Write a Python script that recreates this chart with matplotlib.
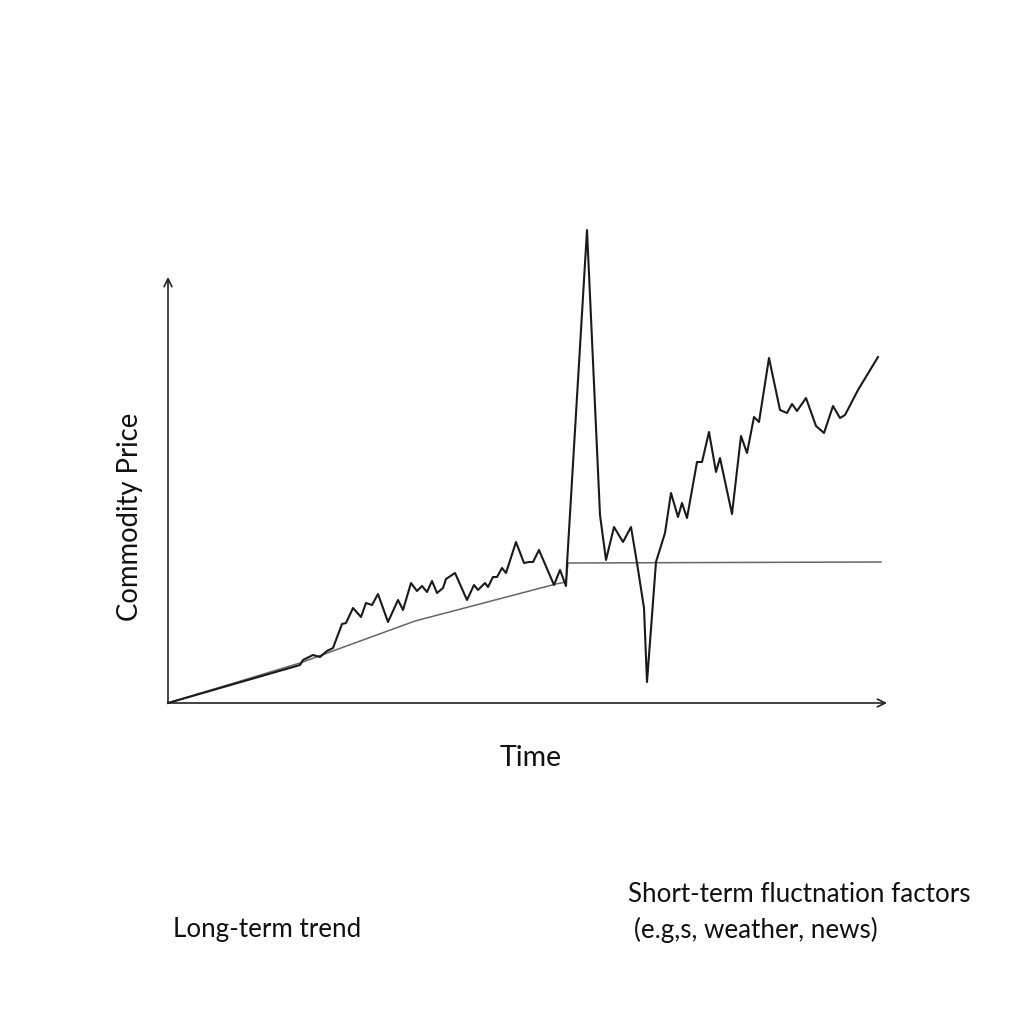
import matplotlib
matplotlib.use("Agg")
import matplotlib.pyplot as plt

# price path (time in days, price in arbitrary units)
time = [0, 33, 33.75, 36.25, 38, 39.75, 41.25, 43.5, 44.5, 46.25, 48.25, 49.5, 51,
        52.5, 55, 57.5, 58.75, 60.75, 62.25, 63.5, 64.75, 66, 67.25, 68.75, 69.5,
        71.75, 74.75, 76.5, 77.5, 79.25, 80, 81.25, 82.25, 83.5, 84.5, 87, 89,
        90.25, 91.25, 92.75, 96.5, 98, 99.5, 99.75, 104.75, 108, 109.5, 111.5,
        113.75, 115.75, 117.25, 119, 119.75, 122, 124.25, 125.75, 127.5, 128.5,
        129.75, 132.25, 133.5, 135.25, 137, 138, 141, 143.25, 144.75, 146.5,
        147.75, 150.25, 153, 154.75, 156, 157.25, 159.5, 162, 164, 166.25, 168,
        169.25, 172.5, 177.5]
price = [0, 7.6, 8.6, 9.6, 9.2, 10.4, 11, 15.8, 16, 19, 17.2, 20, 19.6,
         21.8, 16.2, 20.6, 18.6, 24, 22.4, 23.4, 22.2, 24.4, 22, 23, 24.8,
         26, 20.6, 23.6, 22.6, 24, 23.2, 25.2, 25.2, 27, 26, 32.2, 28,
         28.2, 28.2, 30.6, 23.6, 26.6, 23.4, 27.8, 94.6, 37.6, 28.6, 35.2,
         32.2, 35.2, 28, 19, 4.2, 28.2, 34, 42, 37.2, 40,
         37, 48.2, 48.2, 54.2, 46.2, 49, 37.8, 53.4, 50, 57.2,
         56.2, 69, 58.6, 58, 59.8, 58.4, 61, 55.4, 54, 59.4, 57,
         57.6, 62.6, 69.2]

# long-term trend
trend_time = [0, 33, 61.75, 97, 99.5, 100, 178.25]
trend_price = [0, 8, 16.4, 23.8, 24.2, 28, 28.2]

plt.rcParams['font.family'] = ['Lato', 'DejaVu Sans']

fig = plt.figure(figsize=(10.24, 10.24), dpi=100)
ax = fig.add_axes([168 / 1024, 321 / 1024, 720 / 1024, 475 / 1024])
ax.set_xlim(0, 180)
ax.set_ylim(0, 95)
ax.axis('off')

ax.plot(trend_time, trend_price, color='#666666', lw=1.1, clip_on=False)
ax.plot(time, price, color='#1a1a1a', lw=1.5, clip_on=False)

# axes with arrows
ax.annotate('', xy=(179.75, 0), xytext=(0, 0),
            arrowprops=dict(arrowstyle='->', color='#222222', lw=1.2,
                            mutation_scale=14, shrinkA=0, shrinkB=0),
            annotation_clip=False)
ax.annotate('', xy=(0, 85.2), xytext=(0, 0),
            arrowprops=dict(arrowstyle='->', color='#222222', lw=1.2,
                            mutation_scale=14, shrinkA=0, shrinkB=0),
            annotation_clip=False)

fig.text(130 / 1024, 1 - 517 / 1024, 'Commodity Price', rotation=90,
         ha='center', va='center', fontsize=19.8, color='#111111')
fig.text(531 / 1024, 1 - 758 / 1024, 'Time', ha='center', va='center',
         fontsize=20.5, color='#111111')
fig.text(173 / 1024, 1 - 930 / 1024, 'Long-term trend', ha='left', va='center',
         fontsize=18.7, color='#111111')
fig.text(628 / 1024, 1 - 895 / 1024, 'Short-term fluctnation factors',
         ha='left', va='center', fontsize=18.7, color='#111111')
fig.text(634 / 1024, 1 - 930 / 1024, '(e.g,s, weather, news)',
         ha='left', va='center', fontsize=18.7, color='#111111')

fig.savefig('out.png', dpi=100, facecolor='white')
